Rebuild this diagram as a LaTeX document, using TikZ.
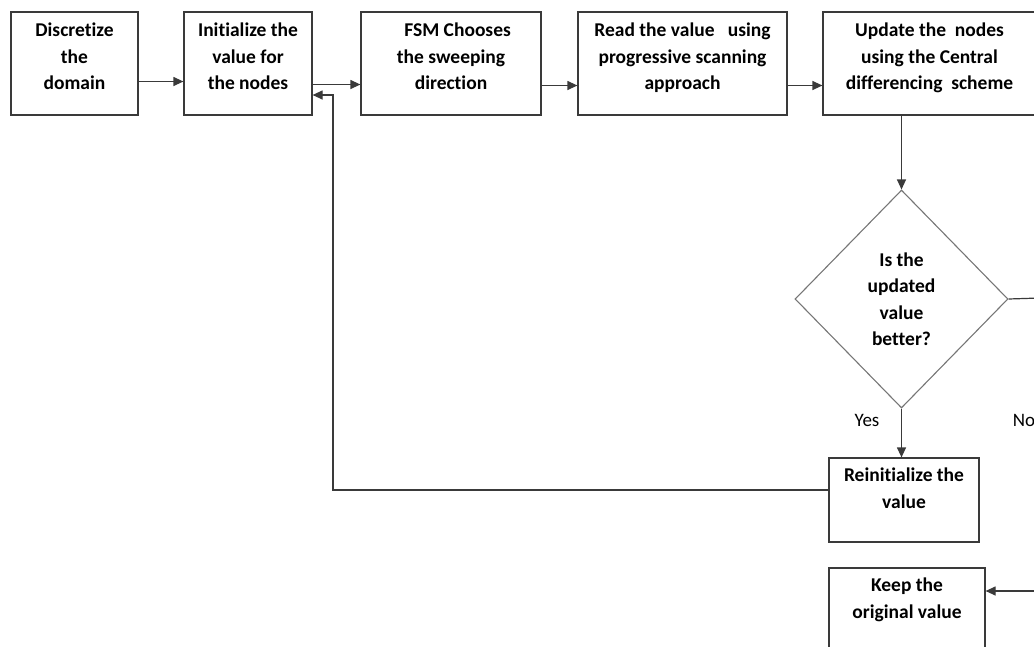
\documentclass[tikz,border=0pt]{standalone}
\usepackage{fontspec}
\setmainfont{Carlito}[Ligatures=NoCommon]
\usetikzlibrary{shapes.geometric,arrows.meta}
\definecolor{edge}{HTML}{3A3A3A}
\definecolor{dedge}{HTML}{767676}

\begin{document}
\begin{tikzpicture}[x=1pt,y=-1pt,
  box/.style={draw=edge,line width=1.2pt,rectangle,align=center,inner sep=2pt,
    font=\fontsize{19.5}{26.5}\selectfont\bfseries},
  decide/.style={draw=dedge,line width=1.1pt,diamond,align=center,inner sep=0pt,
    font=\fontsize{19.5}{26.5}\selectfont\bfseries},
  tag/.style={font=\fontsize{19}{22}\selectfont,inner sep=0pt},
  arr/.style={draw=edge,line width=1.2pt,-{Triangle[length=10pt,width=9pt]}},
  ln/.style={draw=edge,line width=1.2pt}]
\useasboundingbox (0,0) rectangle (1034,646);
\clip (0,0) rectangle (1034,646);

% top row
\node (disc) at (74.5,63.5) [box,minimum width=127,minimum height=103,text depth=14pt]{Discretize\\the\\domain};
\node (init) at (248,63.5) [box,minimum width=128,minimum height=103,text depth=14pt]{Initialize the\\value for\\the nodes};
\node (fsm) at (451,63.5) [box,minimum width=180,minimum height=103,text depth=14pt]{\ \ \ FSM Chooses\\the sweeping\\direction};
\node (read) at (682.5,63.5) [box,minimum width=209,minimum height=103,text depth=14pt]{Read the value\ \ \ using\\progressive scanning\\approach};
\node (upd) at (929.5,63.5) [box,minimum width=213,minimum height=103,text depth=14pt]{Update the\ \ nodes\\using the Central\\differencing\ \ scheme};

% decision and results
\node (dec) at (901.5,299) [decide,minimum width=213,minimum height=218]{Is the\\updated\\value\\better?};
\node (reinit) at (904,500) [box,minimum width=150,minimum height=84,text depth=24pt]{Reinitialize the\\value};
\node (keep) at (907,610) [box,minimum width=156,minimum height=84,text depth=24pt]{Keep the\\original value};

\node (yes) at (867,420) [tag]{Yes};
\node (no) at (1024,420) [tag]{No};

\coordinate (back) at (333,95);
\coordinate (noout) at (1040,298);
\coordinate (keepin) at (1040,591);

\draw[arr] ([yshift=-18pt]disc.east) -- ([yshift=-18pt]disc.east -| init.west);
\draw[arr] ([yshift=-21pt]init.east) -- ([yshift=-21pt]init.east -| fsm.west);
\draw[arr] ([yshift=-22pt]fsm.east) -- ([yshift=-22pt]fsm.east -| read.west);
\draw[arr] ([yshift=-22pt]read.east) -- ([yshift=-22pt]read.east -| upd.west);
\draw[arr] (upd.south -| dec.north) -- (dec.north);
\draw[arr] (dec.south) -- (dec.south |- reinit.north);
\draw[ln] (dec.east) -- (noout);
\draw[arr] ([yshift=10pt]reinit.west) -| (back) -- (back -| init.east);
\draw[arr] (keepin) -- (keepin -| keep.east);

\end{tikzpicture}
\end{document}
